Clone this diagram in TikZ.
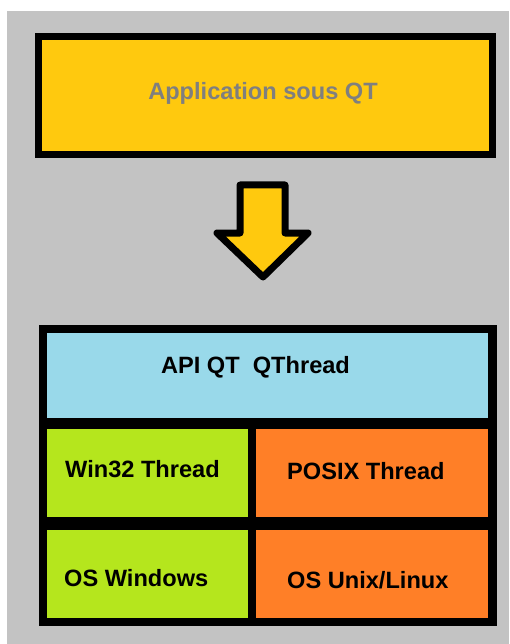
\documentclass[tikz,border=0pt]{standalone}
\usepackage{fontspec}
\setmainfont{Liberation Sans}
\usetikzlibrary{positioning}

\definecolor{appyellow}{RGB}{255,201,14}
\definecolor{apiblue}{RGB}{153,217,234}
\definecolor{wingreen}{RGB}{181,230,29}
\definecolor{posixorange}{RGB}{255,127,39}
\definecolor{backgray}{RGB}{195,195,195}
\definecolor{textgray}{RGB}{127,127,127}

\begin{document}
\begin{tikzpicture}[x=1pt,y=-1pt]
\begin{scope}[every node/.style={font=\fontsize{23.6}{28}\selectfont\bfseries, inner sep=0pt}]
\useasboundingbox (0,0) rectangle (509,644);
\fill [white] (0,0) rectangle (509,644);
\fill [backgray] (7,11) rectangle (509,644);
% application box
\draw [line width=7pt, fill=appyellow] (38.5,36.5) rectangle (492.5,154.5);
\node [text=textgray] (appli) at (263,93) {Application sous QT};
% block arrow
\draw [line width=7pt, line join=round, fill=appyellow]
  (240,185) -- (285,185) -- (285,233) -- (308,233) -- (263,277)
  -- (217,233) -- (240,233) -- cycle;
% layers
\fill [black] (39,325) rectangle (497,626);
\fill [apiblue] (47,333) rectangle (488,418);
\foreach \y in {429,530} {
  \fill [wingreen] (47,\y) rectangle (248,\y+88);
  \fill [posixorange] (256,\y) rectangle (488,\y+88);
}
\node (api) at (255.5,367) {API QT\ \ QThread};
\node [anchor=west] (win) at (65,469) {Win32 Thread};
\node [anchor=west] (posix) at (287,471) {POSIX Thread};
\node [anchor=west] (oswin) at (64,578) {OS Windows};
\node [anchor=west] (osunix) at (287,580) {OS Unix/Linux};
\end{scope}
\end{tikzpicture}
\end{document}
